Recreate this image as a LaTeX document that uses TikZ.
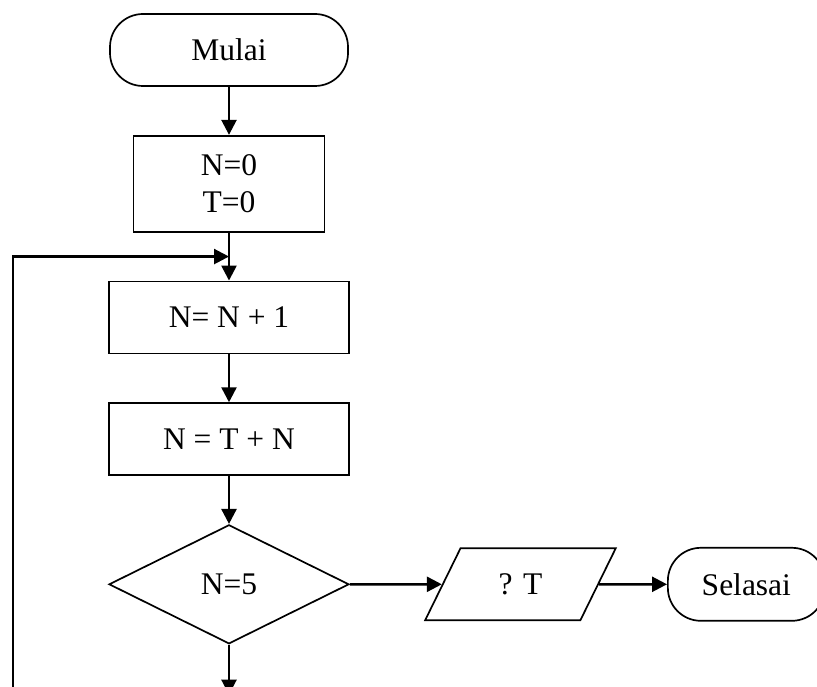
\documentclass[tikz,border=0pt]{standalone}
\usepackage{fontspec}
\setmainfont{Liberation Serif}
\usetikzlibrary{positioning}
\usetikzlibrary{arrows.meta}
\usetikzlibrary{shapes.geometric}

\begin{document}
\begin{tikzpicture}[font=\fontsize{31.5pt}{37pt}\selectfont,
      term style/.style={rectangle,rounded corners=33pt,draw=black,line
        width=1.7pt,minimum width=238pt,minimum height=72pt,align=center},
      box style/.style={rectangle,draw=black,line width=1.7pt,minimum
        width=240pt,minimum height=72pt,align=center},
      dec style/.style={diamond,draw=black,line width=1.7pt,inner sep=0pt,
        minimum width=240pt,minimum height=119pt},
      io style/.style={trapezium,trapezium left angle=62,trapezium right
        angle=118,trapezium stretches=true,draw=black,line width=1.7pt,
        minimum width=192pt,minimum height=72pt},
      arrow style/.style={line width=2.5pt,-{Triangle[length=15pt,width=15pt]}}
      ]
      \useasboundingbox (0,0) rectangle (817pt,-687pt);

      \node[term style] (mulai) at (229pt,-50pt) {Mulai};
      \node[box style, minimum width=191pt, minimum height=96pt,
        below=48pt of mulai] (init) {N=0\\T=0};
      \node[box style, below=48pt of init] (inc) {N= N + 1};
      \node[box style, below=48pt of inc] (sum) {N = T + N};
      \node[dec style, below=48pt of sum] (cek) {N=5};
      \node[io style, right=92pt of cek] (tulis) {? T};
      \node[term style, minimum width=157pt, minimum height=73pt,
        right=68pt of tulis] (selesai) {Selasai};

      \coordinate[below=24pt of init] (merge);
      \coordinate[below=50pt of cek] (exit);
      \coordinate (loopfoot) at ([xshift=-216pt]exit);

      \draw[arrow style] (mulai) -- (init);
      \draw[arrow style] (init) -- (inc);
      \draw[arrow style] (inc) -- (sum);
      \draw[arrow style] (sum) -- (cek);
      \draw[arrow style] (cek) -- (tulis);
      \draw[arrow style] (tulis) -- (selesai);
      \draw[arrow style] (cek) -- (exit);
      \draw[arrow style] (loopfoot) |- (merge);

    \end{tikzpicture}
\end{document}
